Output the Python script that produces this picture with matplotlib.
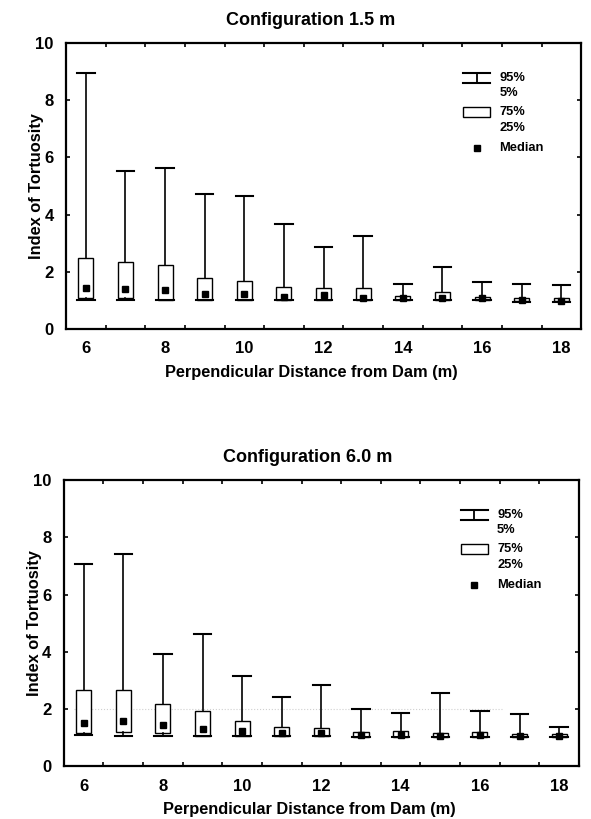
import numpy as np
import matplotlib
matplotlib.use("Agg")
import matplotlib.pyplot as plt
from matplotlib.patches import Rectangle

plt.rcParams['font.family'] = ['Liberation Sans', 'DejaVu Sans']
plt.rcParams['font.weight'] = 'bold'

# Datos
distancias = [6, 7, 8, 9, 10, 11, 12, 13, 14, 15, 16, 17, 18]

# Configuracion 1.5 m
p95_a = [8.97, 5.53, 5.63, 4.73, 4.66, 3.66, 2.87, 3.26, 1.58, 2.16, 1.65, 1.56, 1.53]
p75_a = [2.48, 2.33, 2.23, 1.77, 1.67, 1.48, 1.44, 1.42, 1.16, 1.30, 1.13, 1.09, 1.09]
med_a = [1.42, 1.41, 1.38, 1.21, 1.21, 1.13, 1.19, 1.09, 1.07, 1.09, 1.07, 1.01, 0.99]
p25_a = [1.10, 1.10, 1.01, 1.00, 1.00, 1.00, 1.00, 1.00, 1.00, 1.00, 1.00, 0.97, 0.97]
p5_a = [1.01, 1.01, 1.01, 1.00, 1.00, 1.00, 1.00, 1.00, 1.00, 1.00, 1.00, 0.96, 0.96]

# Configuracion 6.0 m
p95_b = [7.05, 7.40, 3.92, 4.63, 3.14, 2.43, 2.82, 2.00, 1.84, 2.56, 1.94, 1.81, 1.38]
p75_b = [2.66, 2.65, 2.17, 1.93, 1.58, 1.38, 1.34, 1.20, 1.23, 1.14, 1.19, 1.13, 1.11]
med_b = [1.51, 1.58, 1.45, 1.30, 1.24, 1.17, 1.16, 1.09, 1.09, 1.05, 1.09, 1.05, 1.05]
p25_b = [1.17, 1.20, 1.17, 1.05, 1.05, 1.05, 1.05, 1.02, 1.02, 1.00, 1.02, 1.00, 1.00]
p5_b = [1.07, 1.05, 1.05, 1.05, 1.05, 1.05, 1.05, 1.02, 1.02, 1.00, 1.02, 1.00, 1.00]

etiquetas_x = ["6", "8", "10", "12", "14", "16", "18"]
etiquetas_y = ["0", "2", "4", "6", "8", "10"]


def dibujar_panel(ax, titulo, p5, p25, med, p75, p95, linea_2=False):
    stats = []
    for i in range(len(distancias)):
        stats.append({'whislo': p5[i], 'q1': p25[i], 'med': med[i],
                      'q3': p75[i], 'whishi': p95[i]})
    ax.bxp(stats, positions=distancias, widths=0.38, capwidths=0.44,
           showfliers=False, patch_artist=True,
           boxprops=dict(facecolor='white', edgecolor='black', linewidth=1.0),
           whiskerprops=dict(color='black', linewidth=1.2),
           capprops=dict(color='black', linewidth=1.5),
           medianprops=dict(linewidth=0))
    ax.plot(distancias, med, 's', color='black', markersize=5, zorder=5)
    if linea_2:
        # linea punteada tenue en y=2 que se ve en el original
        ax.axhline(2, xmin=0.02, xmax=0.85, color='#d0d0d0', lw=0.8,
                   ls=':', zorder=0)

    ax.set_xlim(5.5, 18.5)
    ax.set_ylim(0, 10)
    ax.set_yticks([0, 2, 4, 6, 8, 10])
    ax.set_yticklabels(etiquetas_y, fontsize=12, fontweight='bold')
    # ticks entre categorias, etiquetas en los pares
    ax.set_xticks(np.arange(6.5, 18.5, 1.0))
    ax.set_xticklabels([])
    ax.set_xticks([6, 8, 10, 12, 14, 16, 18], minor=True)
    ax.set_xticklabels(etiquetas_x, minor=True, fontsize=12, fontweight='bold')
    ax.tick_params(axis='x', which='major', direction='in', length=3, width=1.2,
                   top=True, bottom=True)
    ax.tick_params(axis='x', which='minor', length=0, pad=9)
    ax.tick_params(axis='y', direction='in', length=3, width=1.2, right=True, pad=9)
    for s in ax.spines.values():
        s.set_linewidth(1.6)

    ax.set_title(titulo, fontsize=13, fontweight='bold', pad=13, x=0.474)
    ax.set_xlabel("Perpendicular Distance from Dam (m)", fontsize=11.8,
                  fontweight='bold')
    ax.set_ylabel("Index of Tortuosity", fontsize=11.8, fontweight='bold')
    ax.xaxis.set_label_coords(0.476, -0.127)
    ax.yaxis.set_label_coords(-0.042, 0.5)

    # leyenda dibujada a mano
    t = ax.transAxes
    ax.plot([0.771, 0.823], [0.896, 0.896], color='black', lw=1.5, transform=t)
    ax.plot([0.771, 0.823], [0.859, 0.859], color='black', lw=1.5, transform=t)
    ax.plot([0.797, 0.797], [0.859, 0.896], color='black', lw=1.3, transform=t)
    ax.add_patch(Rectangle((0.771, 0.741), 0.052, 0.035, transform=t,
                           facecolor='white', edgecolor='black', lw=1.0))
    ax.plot([0.797], [0.633], 's', color='black', markersize=4.5, transform=t)
    kw = dict(transform=t, fontsize=9.3, fontweight='bold', va='center', ha='left')
    ax.text(0.841, 0.879, "95%", **kw)
    ax.text(0.841, 0.824, "5%", **kw)
    ax.text(0.841, 0.759, "75%", **kw)
    ax.text(0.841, 0.703, "25%", **kw)
    ax.text(0.841, 0.633, "Median", **kw)


fig = plt.figure(figsize=(5.91, 8.19), dpi=100)
ax1 = fig.add_axes([0.1117, 0.5983, 0.8716, 0.349])
ax2 = fig.add_axes([0.108, 0.0647, 0.8716, 0.349])

dibujar_panel(ax1, "Configuration 1.5 m", p5_a, p25_a, med_a, p75_a, p95_a)
dibujar_panel(ax2, "Configuration 6.0 m", p5_b, p25_b, med_b, p75_b, p95_b,
              linea_2=True)

fig.savefig("out.png", dpi=100)
